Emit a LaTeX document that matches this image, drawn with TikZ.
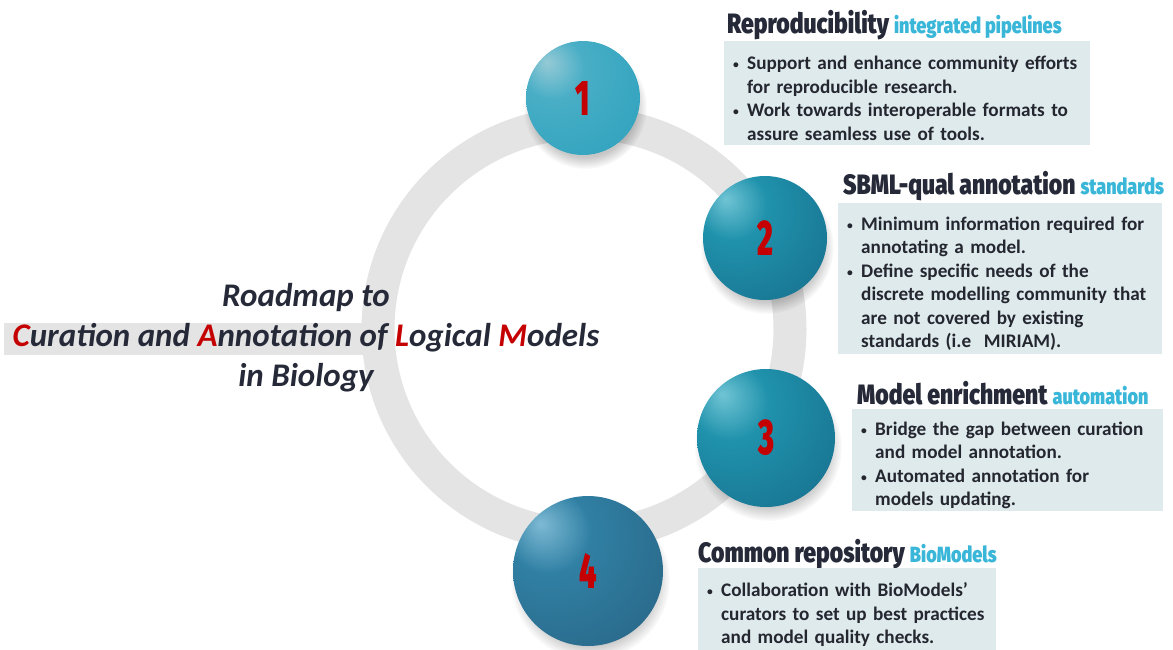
\documentclass[tikz,border=0pt]{standalone}
\usepackage{fontspec}
\setmainfont{Carlito}
\newfontfamily\headfont{Fira Sans Black}[FakeStretch=0.82]
\newfontfamily\numfont{Fira Sans Black}[FakeStretch=0.6]
\usetikzlibrary{fadings}

\definecolor{ringgray}{RGB}{228,228,228}
\definecolor{boxfill}{RGB}{222,234,235}
\definecolor{bodydark}{RGB}{36,38,48}
\definecolor{headdark}{RGB}{38,42,56}
\definecolor{subblue}{RGB}{58,182,216}
\definecolor{capred}{RGB}{196,0,0}
% sphere colours, one set per ball
\definecolor{ballAhi}{RGB}{150,202,214}
\definecolor{ballAmid}{RGB}{72,174,198}
\definecolor{ballAdk}{RGB}{44,160,188}
\definecolor{ballBhi}{RGB}{112,196,212}
\definecolor{ballBmid}{RGB}{32,146,172}
\definecolor{ballBdk}{RGB}{22,108,138}
\definecolor{ballDhi}{RGB}{126,186,212}
\definecolor{ballDmid}{RGB}{48,128,164}
\definecolor{ballDdk}{RGB}{40,98,130}
\colorlet{ballhi}{ballAhi}
\colorlet{ballmid}{ballAmid}
\colorlet{balldk}{ballAdk}

\pgfdeclareradialshading[ballhi,ballmid,balldk]{sphere}{\pgfpoint{-16bp}{16bp}}{%
  color(0bp)=(ballhi); color(14bp)=(ballmid); color(48bp)=(balldk); color(80bp)=(balldk)}

\newcommand\bitem[1]{\par\leftskip=14pt\noindent\hspace*{-14pt}\makebox[14pt][l]{\raisebox{1pt}{\scalebox{.6}{\textbullet}}}#1\par}
\newcommand\subhead[1]{{\fontsize{22}{22}\selectfont\color{subblue}#1}}

\begin{document}
\begin{tikzpicture}[x=1pt, y=-1pt,
    ringline/.style={line width=33pt, draw=ringgray},
    ball/.style={circle, shading=sphere, inner sep=0pt, font=\numfont\fontsize{50}{50}\selectfont, text=capred},
    infobox/.style={fill=boxfill, anchor=north west, inner xsep=9pt, inner ysep=0pt, align=left, font=\bfseries\fontsize{19.2}{23.5}\selectfont, text=bodydark},
    head/.style={anchor=base west, inner sep=0pt, font=\headfont\fontsize{28}{28}\selectfont, text=headdark},
    title/.style={align=center, font=\bfseries\itshape\fontsize{33}{40}\selectfont, text=headdark}]
  \useasboundingbox (0,0) rectangle (1173,649);

  % ring and band behind the title
  \fill[ringgray] (4,323) rectangle (366,355);
  \draw[ringline] (584,329) circle [radius=206pt];

  \node[title] (title) at (306,338) {Roadmap to\\
    \textcolor{capred}{C}uration and \textcolor{capred}{A}nnotation of \textcolor{capred}{L}ogical \textcolor{capred}{M}odels\\
    in Biology};

  % the four balls
  \foreach \n/\x/\y/\r/\col in {1/583/98/57/A, 2/765/238/62/B, 3/766/438/69/B, 4/588/571/75/D}{
    \colorlet{ballhi}{ball\col hi}
    \colorlet{ballmid}{ball\col mid}
    \colorlet{balldk}{ball\col dk}
    \fill[black, opacity=.22, path fading=circle with fuzzy edge 20 percent]
      (\x+2,\y+9) circle [radius={(\r+5)*1pt}];
    \node[ball, minimum size={2*\r*1pt}] (ball\n) at (\x,\y) {\n};
  }

  % headings
  \node[head] (head1) at (727,33) {Reproducibility \subhead{integrated pipelines}};
  \node[head] (head2) at (843,194) {SBML-qual annotation \subhead{standards}};
  \node[head] (head3) at (857,404) {Model enrichment \subhead{automation}};
  \node[head] (head4) at (698,562) {Common repository \subhead{BioModels}};

  % text boxes
  \node[infobox, text width=348pt, minimum height=104pt] (box1) at (724,41) {%
    \bitem{Support and enhance community efforts\\for reproducible research.}
    \bitem{Work towards interoperable formats to\\assure seamless use of tools.}};
  \node[infobox, text width=306pt, minimum height=151pt] (box2) at (838,203) {%
    \bitem{Minimum information required for\\annotating a model.}
    \bitem{Define specific needs of the\\discrete modelling community that\\are not covered by existing\\standards (i.e\ \ MIRIAM).}};
  \node[infobox, text width=293pt, minimum height=102pt] (box3) at (852,409) {%
    \bitem{Bridge the gap between curation\\and model annotation.}
    \bitem{Automated annotation for\\models updating.}};
  \node[infobox, text width=280pt, minimum height=84pt] (box4) at (698,568) {%
    \bitem{Collaboration with BioModels’\\curators to set up best practices\\and model quality checks.}};
\end{tikzpicture}
\end{document}
